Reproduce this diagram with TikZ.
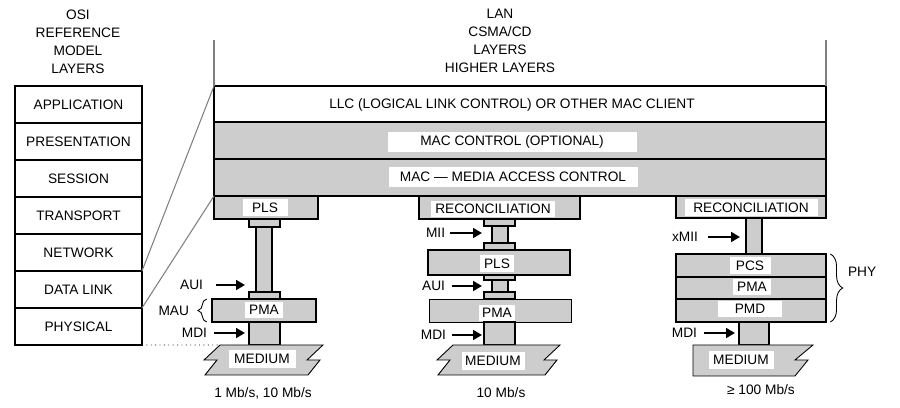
\documentclass[tikz,border=0pt]{standalone}
\usepackage{fontspec}
\setmainfont{Liberation Sans}
\usepackage{tikz}
\usetikzlibrary{
  arrows.meta,
  positioning,
  decorations.pathreplacing
}
\definecolor{lanshade}{RGB}{205,205,205}

\begin{document}
\begin{tikzpicture}[x=0.02cm, y=-0.02cm,
  every node/.style={font=\fontsize{7.8}{10.3}\selectfont},
  sz/.style 2 args={minimum width=#1*0.02cm, minimum height=#2*0.02cm, inner sep=0pt, outer sep=0pt},
  osi/.style={draw, line width=1.1pt, sz={127}{37}},
  blk/.style={draw, line width=1.1pt, fill=lanshade},
  thinblk/.style={draw, line width=0.5pt, fill=lanshade},
  tag/.style={fill=white, inner sep=0pt, outer sep=0pt},
  lbl/.style={inner sep=0pt, outer sep=0pt},
  arr/.style={-{Triangle[length=5pt,width=5.5pt]}, line width=1.1pt},
  guide/.style={gray, line width=0.6pt},
  medium/.style={draw, line width=0.5pt, fill=lanshade},
  brc/.style={decorate, decoration={brace, amplitude=#1}, line width=0.5pt}
]
  \useasboundingbox (0,0) rectangle (900,408);

  % titles
  \node[align=center] (osiTitle) at (78,41.5) {OSI\\REFERENCE\\MODEL\\LAYERS};
  \node[align=center] (lanTitle) at (500,41) {LAN\\CSMA/CD\\LAYERS\\HIGHER LAYERS};

  % OSI stack
  \foreach \name [count=\i] in {APPLICATION, PRESENTATION, SESSION, TRANSPORT, NETWORK, DATA LINK, PHYSICAL}
    \node[osi] (osi\i) at (78.5, 67.5+37*\i) {\name};

  % LAN layers
  \node[draw, line width=1.1pt, sz={612}{36}] (llc) at (520,104) {};
  \node[blk, sz={612}{37}] (macctl) at (520,140.5) {};
  \node[blk, sz={612}{37}] (mac) at (520,177.5) {};
  \node[lbl] (llcText) at (512,105) {LLC (LOGICAL LINK CONTROL) OR OTHER MAC CLIENT};
  \node[tag, sz={249}{20}, fill=white] (macctlText) at (512,142) {MAC CONTROL (OPTIONAL)};
  \node[tag, sz={249}{20}, fill=white] (macText) at (513,177) {MAC --- MEDIA ACCESS CONTROL};

  % 1 Mb/s, 10 Mb/s
  \node[blk, sz={104}{23}] (plsA) at (266,207.5) {};
  \node[blk, sz={31}{8}] (capA1) at (264.5,223) {};
  \node[blk, sz={16}{65}] (barA) at (264,259.5) {};
  \node[blk, sz={31}{7}] (capA2) at (264.5,295.5) {};
  \node[blk, sz={104}{23}] (pmaA) at (264,310.5) {};
  \node[blk, sz={31}{23}] (linkA) at (264.5,333.5) {};
  \node[tag, sz={45}{17}, fill=white] at (265,208) {PLS};
  \node[tag, sz={38}{16}, fill=white] at (264,310) {PMA};

  % 10 Mb/s
  \node[blk, sz={161}{23}] (recB) at (499.5,207.5) {};
  \node[blk, sz={31}{7}] (capB1) at (499.5,222.5) {};
  \node[blk, sz={16}{17}] (barB1) at (500,234.5) {};
  \node[blk, sz={31}{7}] (capB2) at (499.5,246.5) {};
  \node[blk, sz={142}{25}] (plsB) at (499,262.5) {};
  \node[blk, sz={31}{5}] (capB3) at (499.5,277.5) {};
  \node[blk, sz={16}{12}] (barB2) at (500,286) {};
  \node[blk, sz={31}{7}] (capB4) at (499.5,295.5) {};
  \node[thinblk, sz={142}{23}] (pmaB) at (500,310.5) {};
  \node[blk, sz={31}{23}] (linkB) at (499.5,333.5) {};
  \node[tag, sz={124}{16}, fill=white] at (493,209) {RECONCILIATION};
  \node[tag, sz={34}{17}, fill=white] at (497,264) {PLS};
  \node[tag, sz={36}{16}, fill=white] at (497,313) {PMA};

  % >= 100 Mb/s
  \node[blk, sz={150}{22}] (recC) at (751,207) {};
  \node[blk, sz={16}{36}] (barC) at (754,236) {};
  \node[blk, sz={150}{23}] (pcsC) at (751,265.5) {};
  \node[blk, sz={150}{22}] (pmaC) at (751,288) {};
  \node[blk, sz={150}{23}] (pmdC) at (751,310.5) {};
  \node[blk, sz={30}{23}] (linkC) at (754,333.5) {};
  \node[tag, sz={133}{17}, fill=white] at (751,207.5) {RECONCILIATION};
  \node[tag, sz={41}{17}, fill=white] at (750,265.5) {PCS};
  \node[tag, sz={38}{16}, fill=white] at (752,287) {PMA};
  \node[tag, sz={64}{16}, fill=white] at (750,309) {PMD};

  % media
  \foreach \xa/\xb in {205/308, 438/545}
    \draw[medium] (\xa+15,345) -- (\xb+15,345) -- (\xb-1,360) -- (\xb+12,360) -- (\xb,375)
      -- (\xa,375) -- (\xa+12,360) -- (\xa-1,360) -- cycle;
  \draw[medium] (693,345) -- (813,345) -- (795,360) -- (808,360) -- (795,376) -- (693,376) -- cycle;
  \node[tag, sz={67}{18}, fill=white] (medTextA) at (262,359) {MEDIUM};
  \node[tag, sz={63}{18}, fill=white] (medTextB) at (493,361) {MEDIUM};
  \node[tag, sz={65}{18}, fill=white] (medTextC) at (741,360) {MEDIUM};

  % guide lines
  \coordinate (lanL) at (214,40);
  \coordinate (lanR) at (826,40);
  \coordinate (medA) at (220,345);
  \draw[guide] (lanL) -- (llc.north west);
  \draw[guide] (lanR) -- (llc.north east);
  \draw[guide] (osi6.north east) -- (llc.north west);
  \draw[guide] (osi7.north east) -- (plsA.north west);
  \draw[dotted, line width=0.5pt] (osi7.south east) -- (medA);

  % interface arrows
  \foreach \n/\xs/\xe/\y/\t/\g in {auiA/216/245/285/AUI/7.4pt, mdiA/214/245/333/MDI/4pt,
      miiB/450/482/233/MII/2.8pt, auiB/452/482/286/AUI/4pt, mdiB/452/482/335/MDI/3.4pt,
      xmiiC/708/740/237/xMII/5.7pt, mdiC/704/735/333/MDI/4pt} {
    \coordinate (\n-s) at (\xs,\y);
    \coordinate (\n-e) at (\xe,\y);
    \node[lbl, left=\g of \n-s] (\n-l) {\t};
    \draw[arr] (\n-s) -- (\n-e);
  }

  % braces
  \draw[brc=5pt] ([xshift=-3pt]pmaA.south west) -- ([xshift=-3pt]pmaA.north west);
  \node[lbl, anchor=east] (mauA) at (189,311) {MAU};
  \draw[brc=7pt] ([xshift=2.5pt]pcsC.north east) -- ([xshift=2.5pt]pmdC.south east);
  \node[lbl, anchor=west] (phyC) at (848,272) {PHY};

  % rates
  \node (rateA) at (263,393) {1 Mb/s, 10 Mb/s};
  \node (rateB) at (501,393) {10 Mb/s};
  \node (rateC) at (761,390) {≥ 100 Mb/s};
\end{tikzpicture}
\end{document}
